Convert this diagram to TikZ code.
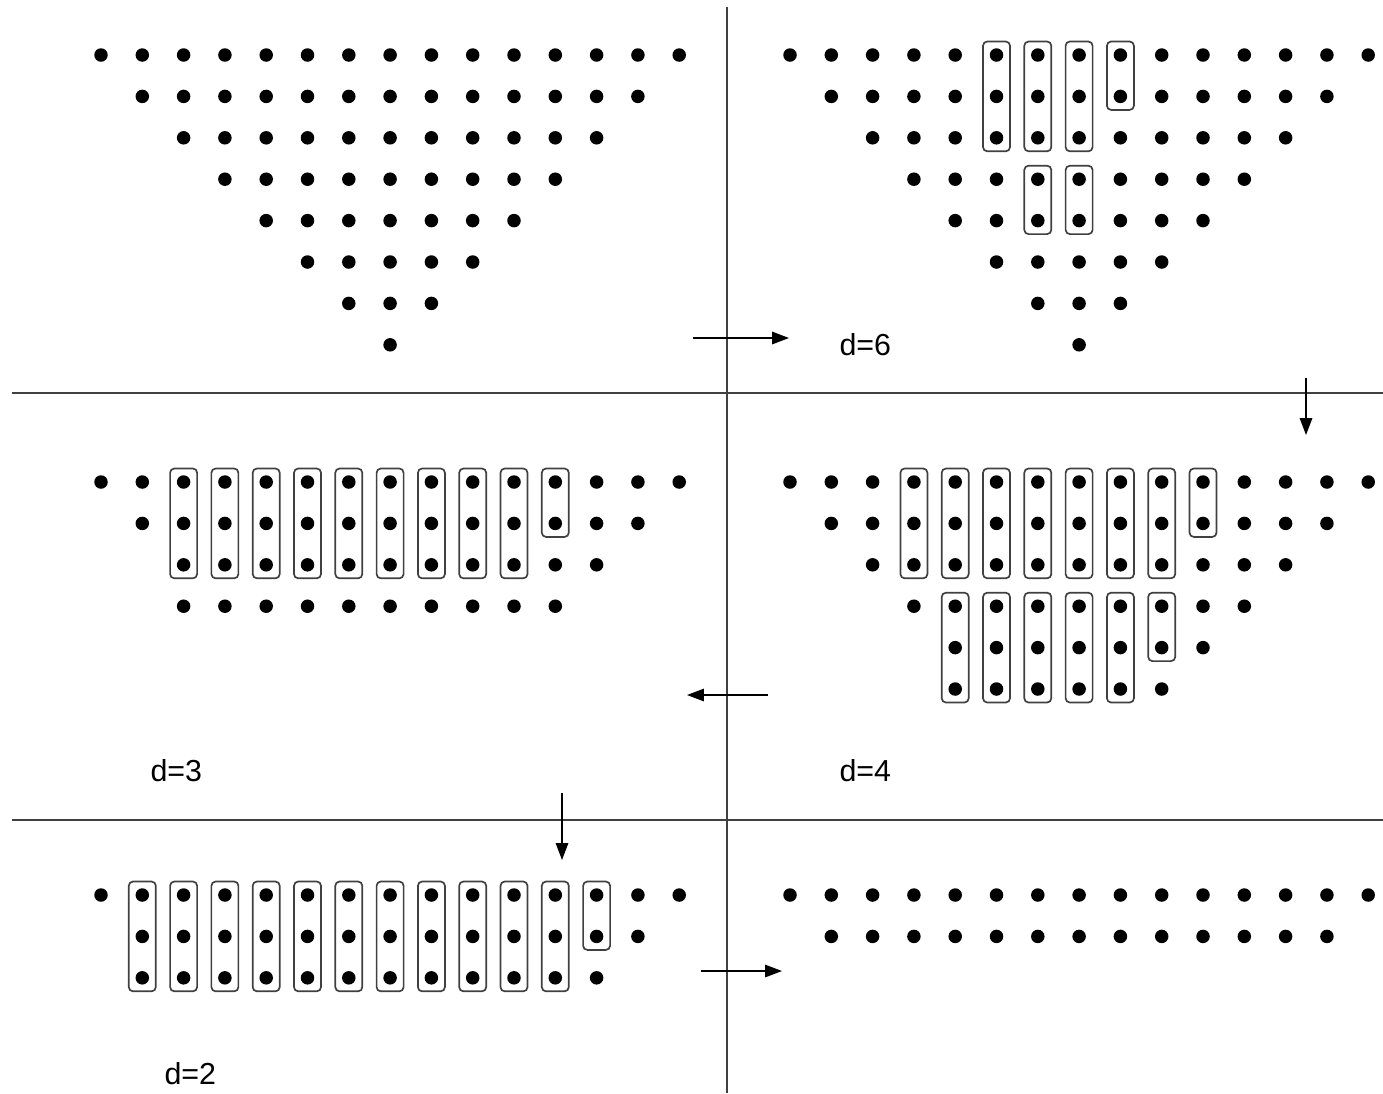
\documentclass[tikz,border=0pt]{standalone}
\usepackage{fontspec}
\setmainfont{Liberation Sans}
\usetikzlibrary{arrows.meta}

\begin{document}
\begin{tikzpicture}[x=0.0125cm,y=-0.0125cm,
    dot/.style={fill=black},
    grp/.style={draw=black!75,line width=0.6pt,rounded corners=1.5pt},
    sep/.style={draw=black!75,line width=0.7pt},
    flow/.style={draw=black,line width=0.6pt,-{Triangle[length=6pt,width=4.4pt]}},
    lbl/.style={font=\fontsize{10.8}{13}\selectfont,anchor=base west,inner sep=0pt}]
  \useasboundingbox (0,0) rectangle (1383,1093);
  \draw[sep] (727,7) -- (727,1093);
  \draw[sep] (12,393) -- (1383,393);
  \draw[sep] (12,820) -- (1383,820);
  \foreach \c in {0,...,14} \fill[dot] ({101+41.3*\c},55.0) circle (2.4pt);
  \foreach \c in {1,...,13} \fill[dot] ({101+41.3*\c},96.4) circle (2.4pt);
  \foreach \c in {2,...,12} \fill[dot] ({101+41.3*\c},137.8) circle (2.4pt);
  \foreach \c in {3,...,11} \fill[dot] ({101+41.3*\c},179.2) circle (2.4pt);
  \foreach \c in {4,...,10} \fill[dot] ({101+41.3*\c},220.6) circle (2.4pt);
  \foreach \c in {5,...,9} \fill[dot] ({101+41.3*\c},262.0) circle (2.4pt);
  \foreach \c in {6,...,8} \fill[dot] ({101+41.3*\c},303.4) circle (2.4pt);
  \fill[dot] ({101+41.3*7},344.8) circle (2.4pt);
  \foreach \c in {0,...,14} \fill[dot] ({790+41.3*\c},55.0) circle (2.4pt);
  \foreach \c in {1,...,13} \fill[dot] ({790+41.3*\c},96.4) circle (2.4pt);
  \foreach \c in {2,...,12} \fill[dot] ({790+41.3*\c},137.8) circle (2.4pt);
  \foreach \c in {3,...,11} \fill[dot] ({790+41.3*\c},179.2) circle (2.4pt);
  \foreach \c in {4,...,10} \fill[dot] ({790+41.3*\c},220.6) circle (2.4pt);
  \foreach \c in {5,...,9} \fill[dot] ({790+41.3*\c},262.0) circle (2.4pt);
  \foreach \c in {6,...,8} \fill[dot] ({790+41.3*\c},303.4) circle (2.4pt);
  \fill[dot] ({790+41.3*7},344.8) circle (2.4pt);
  \foreach \c in {5,6,7} \draw[grp] ({790+41.3*\c-13.5},41.5) rectangle ({790+41.3*\c+13.5},151.3);
  \draw[grp] ({790+41.3*8-13.5},41.5) rectangle ({790+41.3*8+13.5},109.9);
  \foreach \c in {6,7} \draw[grp] ({790+41.3*\c-13.5},165.7) rectangle ({790+41.3*\c+13.5},234.1);
  \foreach \c in {0,...,14} \fill[dot] ({101+41.3*\c},482.0) circle (2.4pt);
  \foreach \c in {1,...,13} \fill[dot] ({101+41.3*\c},523.4) circle (2.4pt);
  \foreach \c in {2,...,12} \fill[dot] ({101+41.3*\c},564.8) circle (2.4pt);
  \foreach \c in {2,...,11} \fill[dot] ({101+41.3*\c},606.2) circle (2.4pt);
  \foreach \c in {2,...,10} \draw[grp] ({101+41.3*\c-13.5},468.5) rectangle ({101+41.3*\c+13.5},578.3);
  \draw[grp] ({101+41.3*11-13.5},468.5) rectangle ({101+41.3*11+13.5},536.9);
  \foreach \c in {0,...,14} \fill[dot] ({790+41.3*\c},482.0) circle (2.4pt);
  \foreach \c in {1,...,13} \fill[dot] ({790+41.3*\c},523.4) circle (2.4pt);
  \foreach \c in {2,...,12} \fill[dot] ({790+41.3*\c},564.8) circle (2.4pt);
  \foreach \c in {3,...,11} \fill[dot] ({790+41.3*\c},606.2) circle (2.4pt);
  \foreach \c in {4,...,10} \fill[dot] ({790+41.3*\c},647.6) circle (2.4pt);
  \foreach \c in {4,...,9} \fill[dot] ({790+41.3*\c},689.0) circle (2.4pt);
  \foreach \c in {3,...,9} \draw[grp] ({790+41.3*\c-13.5},468.5) rectangle ({790+41.3*\c+13.5},578.3);
  \draw[grp] ({790+41.3*10-13.5},468.5) rectangle ({790+41.3*10+13.5},536.9);
  \foreach \c in {4,...,8} \draw[grp] ({790+41.3*\c-13.5},592.7) rectangle ({790+41.3*\c+13.5},702.5);
  \draw[grp] ({790+41.3*9-13.5},592.7) rectangle ({790+41.3*9+13.5},661.1);
  \foreach \c in {0,...,14} \fill[dot] ({101+41.3*\c},895.0) circle (2.4pt);
  \foreach \c in {1,...,13} \fill[dot] ({101+41.3*\c},936.4) circle (2.4pt);
  \foreach \c in {1,...,12} \fill[dot] ({101+41.3*\c},977.8) circle (2.4pt);
  \foreach \c in {1,...,11} \draw[grp] ({101+41.3*\c-13.5},881.5) rectangle ({101+41.3*\c+13.5},991.3);
  \draw[grp] ({101+41.3*12-13.5},881.5) rectangle ({101+41.3*12+13.5},949.9);
  \foreach \c in {0,...,14} \fill[dot] ({790+41.3*\c},895.0) circle (2.4pt);
  \foreach \c in {1,...,13} \fill[dot] ({790+41.3*\c},936.4) circle (2.4pt);
  \coordinate (s1) at (693,338);  \coordinate (e1) at (789,338);
  \coordinate (s2) at (1306,378); \coordinate (e2) at (1306,435);
  \coordinate (s3) at (768,695);  \coordinate (e3) at (687,695);
  \coordinate (s4) at (562,793);  \coordinate (e4) at (562,860);
  \coordinate (s5) at (701,971);  \coordinate (e5) at (782,971);
  \draw[flow] (s1) -- (e1);
  \draw[flow] (s2) -- (e2);
  \draw[flow] (s3) -- (e3);
  \draw[flow] (s4) -- (e4);
  \draw[flow] (s5) -- (e5);
  \node[lbl] (d6) at (839,355.5) {d=6};
  \node[lbl] (d3) at (150,781) {d=3};
  \node[lbl] (d4) at (839,781) {d=4};
  \node[lbl] (d2) at (164,1084) {d=2};
\end{tikzpicture}
\end{document}
